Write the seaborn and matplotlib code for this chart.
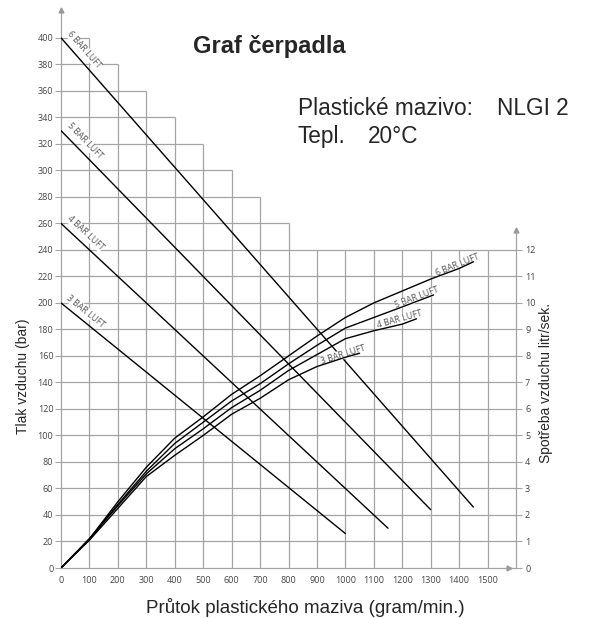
import math
import matplotlib
matplotlib.use('Agg')
import matplotlib.pyplot as plt
import seaborn as sns

# tlakove primky (tlak vzduchu v bar, leva osa)
bar_labels = ['3 BAR LUFT', '4 BAR LUFT', '5 BAR LUFT', '6 BAR LUFT']
press_start = [200, 260, 330, 400]
press_end_x = [1000, 1150, 1300, 1450]
press_end_y = [26, 30, 44, 46]

# spotreba vzduchu (litr/sek., prava osa)
air_x_3 = [0, 100, 200, 300, 400, 500, 600, 700, 800, 900, 1000, 1050]
air_y_3 = [0, 1.05, 2.25, 3.45, 4.25, 5.0, 5.8, 6.4, 7.1, 7.6, 7.95, 8.1]
air_x_4 = [0, 100, 200, 300, 400, 500, 600, 700, 800, 900, 1000, 1100, 1200, 1250]
air_y_4 = [0, 1.1, 2.35, 3.55, 4.5, 5.25, 6.05, 6.7, 7.45, 8.05, 8.65, 8.95, 9.2, 9.4]
air_x_5 = [0, 100, 200, 300, 400, 500, 600, 700, 800, 900, 1000, 1100, 1200, 1310]
air_y_5 = [0, 1.1, 2.4, 3.65, 4.7, 5.5, 6.3, 6.95, 7.7, 8.4, 9.05, 9.45, 9.85, 10.3]
air_x_6 = [0, 100, 200, 300, 400, 500, 600, 700, 800, 900, 1000, 1100, 1200, 1300, 1400, 1450]
air_y_6 = [0, 1.1, 2.5, 3.8, 4.9, 5.7, 6.55, 7.25, 8.0, 8.75, 9.45, 10.0, 10.45, 10.9, 11.3, 11.55]

air_x = [air_x_3, air_x_4, air_x_5, air_x_6]
air_y = [air_y_3, air_y_4, air_y_5, air_y_6]

left_ticks = list(range(0, 401, 20))
bottom_ticks = list(range(0, 1501, 100))
right_ticks = list(range(0, 13))

GRID = '#a4a4a4'
TICK_TXT = '#444444'
W, H = 594, 618

sns.set_theme(style='white')
plt.rcParams['font.family'] = ['Liberation Sans', 'DejaVu Sans']

fig = plt.figure(figsize=(W / 100, H / 100), dpi=100)
ax = fig.add_axes([61 / W, 50 / H, 455 / W, 558 / H])
ax.set_xlim(0, 1600)
ax.set_ylim(0, 421)
ax2 = ax.twinx()
ax2.set_ylim(0, 421 / 20)

# stupnovita mrizka
for y in left_ticks[1:]:
    xmax = 1600 if y <= 240 else 100 * ((400 - y) / 20 + 1)
    ax.hlines(y, 0, xmax, color=GRID, lw=0.9, zorder=1)
for x in bottom_ticks[1:]:
    ymax = 240 if x >= 900 else 400 - 20 * (x / 100 - 1)
    ax.vlines(x, 0, ymax, color=GRID, lw=0.9, zorder=1)

# osy
for s in ['top', 'right']:
    ax.spines[s].set_visible(False)
for s in ['top', 'left', 'bottom']:
    ax2.spines[s].set_visible(False)
ax.spines['left'].set_color(GRID)
ax.spines['bottom'].set_color(GRID)
ax2.spines['right'].set_color(GRID)
ax2.spines['right'].set_bounds(0, 12.75)
for s in [ax.spines['left'], ax.spines['bottom'], ax2.spines['right']]:
    s.set_linewidth(0.9)

ax.plot([0], [421], marker='^', ms=3.5, color='#999999', clip_on=False, zorder=4)
ax2.plot([1600], [12.75], marker='^', ms=3.5, color='#999999', clip_on=False, zorder=4)
ax.plot([1575], [0], marker='>', ms=3.5, color='#999999', clip_on=False, zorder=4)

tick_font = dict(family='Open Sans', size=6.5)
ax.set_yticks(left_ticks)
ax.set_yticklabels([str(v) for v in left_ticks], fontdict=tick_font)
ax.set_xticks(bottom_ticks)
ax.set_xticklabels([str(v) for v in bottom_ticks], fontdict=tick_font)
ax2.set_yticks(right_ticks)
ax2.set_yticklabels([str(v) for v in right_ticks], fontdict=tick_font)
ax.tick_params(axis='y', length=4, width=0.8, color=GRID, pad=1.5, labelcolor=TICK_TXT)
ax.tick_params(axis='x', length=0, pad=6, labelcolor=TICK_TXT)
ax2.tick_params(axis='y', length=4, width=0.8, color=GRID, pad=2.5, labelcolor=TICK_TXT)
ax.grid(False)
ax2.grid(False)


def screen_angle(a, x0, y0, x1, y1):
    p = a.transData.transform([(x0, y0), (x1, y1)])
    return math.degrees(math.atan2(p[1][1] - p[0][1], p[1][0] - p[0][0]))


label_font = dict(family='Open Sans', size=6.3, color='#555555')
box = dict(fc='white', ec='none', pad=0.2)

# tlakove primky
for lab, y0, x1, y1 in zip(bar_labels, press_start, press_end_x, press_end_y):
    sns.lineplot(x=[0, x1], y=[y0, y1], ax=ax, color='black', lw=1.0, zorder=3)
    ang = screen_angle(ax, 0, y0, x1, y1)
    ax.annotate(lab, (0, y0), xytext=(3, 2), textcoords='offset points',
                rotation=ang, rotation_mode='anchor', ha='left', va='bottom',
                bbox=box, zorder=2, **label_font)

# krivky spotreby vzduchu
for lab, xs, ys in zip(bar_labels, air_x, air_y):
    sns.lineplot(x=xs, y=ys, ax=ax2, color='black', lw=1.0, zorder=3)
    ang = screen_angle(ax2, xs[-3], ys[-3], xs[-1], ys[-1])
    ax2.annotate(lab, (xs[-1], ys[-1]), xytext=(5, 1), textcoords='offset points',
                 rotation=ang, rotation_mode='anchor', ha='right', va='bottom',
                 bbox=box, zorder=2, **label_font)

ax.set_xlabel('')
ax.set_ylabel('')
ax2.set_ylabel('')

# texty
fig.text(269 / W, 1 - 53 / H, 'Graf čerpadla', ha='center', va='baseline',
         fontsize=17, fontweight='bold')
fig.text(298 / W, 1 - 115 / H, 'Plastické mazivo:', ha='left', va='baseline', fontsize=16.3)
fig.text(497 / W, 1 - 115 / H, 'NLGI 2', ha='left', va='baseline', fontsize=16.3)
fig.text(298 / W, 1 - 143 / H, 'Tepl.', ha='left', va='baseline', fontsize=16.3)
fig.text(368 / W, 1 - 143 / H, '20°C', ha='left', va='baseline', fontsize=16.3)
fig.text(23 / W, 1 - 376 / H, 'Tlak vzduchu (bar)', rotation=90,
         ha='center', va='center', fontsize=10)
fig.text(546 / W, 1 - 383 / H, 'Spotřeba vzduchu litr/sek.', rotation=90,
         ha='center', va='center', fontsize=10)
fig.text(305 / W, 1 - 613 / H, 'Průtok plastického maziva (gram/min.)',
         ha='center', va='baseline', fontsize=13.5)

fig.savefig('out.png', dpi=100, facecolor='white')
